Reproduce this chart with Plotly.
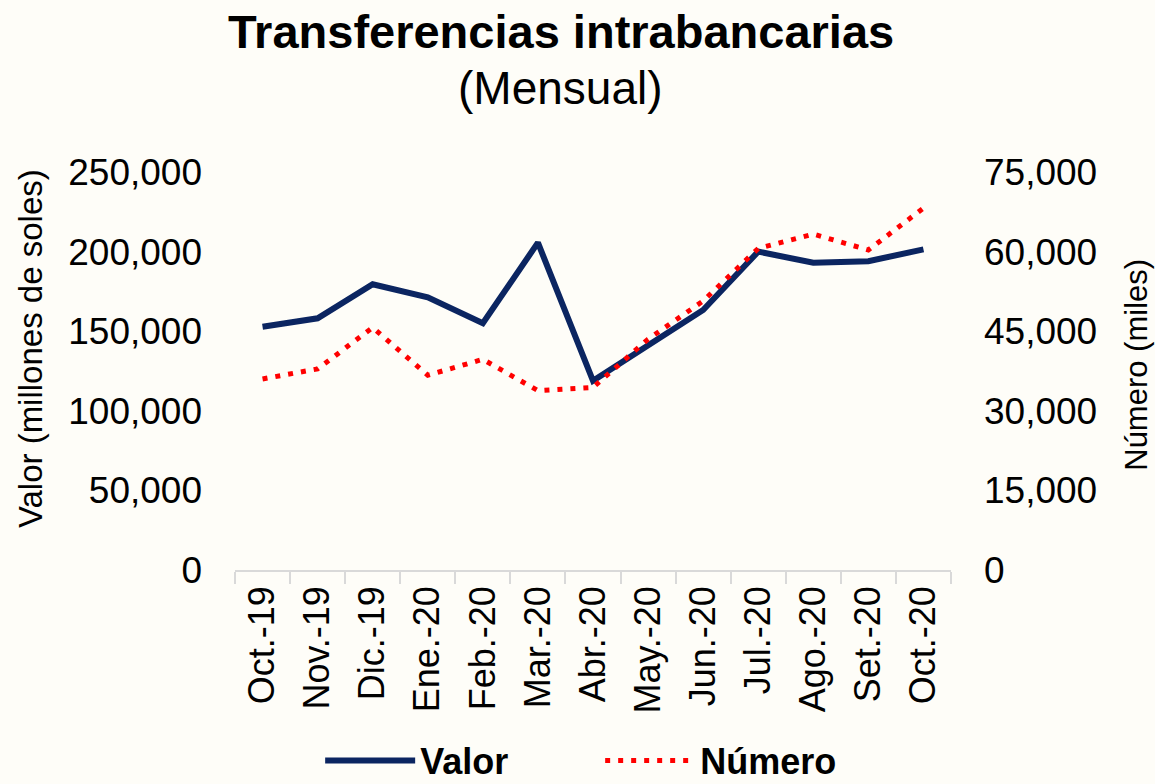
import plotly.graph_objects as go

months = ["Oct.-19", "Nov.-19", "Dic.-19", "Ene.-20", "Feb.-20", "Mar.-20", "Abr.-20",
          "May.-20", "Jun.-20", "Jul.-20", "Ago.-20", "Set.-20", "Oct.-20"]
valor = [152800, 158100, 179500, 171300, 155000, 205600, 118800,
         141500, 163300, 200000, 193000, 194000, 201400]
numero = [36000, 37900, 45700, 36700, 39700, 33800, 34400,
          43500, 50700, 60600, 63300, 60300, 68200]

left_ticks = [0, 50000, 100000, 150000, 200000, 250000]
right_ticks = [0, 15000, 30000, 45000, 60000, 75000]

FONT = "Liberation Sans, Arial, sans-serif"
BG = "#FEFDF8"

fig = go.Figure()
fig.add_trace(go.Scatter(x=months, y=valor, name="<b>Valor</b>", mode="lines",
                         line=dict(color="#0B2561", width=6), yaxis="y"))
fig.add_trace(go.Scatter(x=months, y=numero, name="<b>Número</b>", mode="lines",
                         line=dict(color="#FF0000", width=5, dash="5px,8px"), yaxis="y2"))

fig.update_layout(
    width=1155, height=784,
    paper_bgcolor=BG, plot_bgcolor=BG,
    margin=dict(l=235, r=204, t=172, b=214, autoexpand=False),
    font=dict(family=FONT, color="#000000"),
    showlegend=True,
    legend=dict(orientation="h", x=0.51, xanchor="center",
                yref="container", y=0.03, yanchor="middle",
                font=dict(size=36, family=FONT, color="#000000"),
                bgcolor="rgba(0,0,0,0)", itemwidth=90, entrywidth=175, traceorder="normal"),
    xaxis=dict(type="category", range=[-0.5, 12.5], showgrid=False, zeroline=False,
               automargin=False,
               showline=True, linecolor="#D9D9D9", linewidth=1.5,
               ticks="outside", ticklen=12, tickcolor="#D9D9D9", tickwidth=1.5,
               tickson="boundaries", tickangle=-90,
               tickfont=dict(size=36, family=FONT, color="#000000")),
    yaxis=dict(range=[0, 250000], tickvals=left_ticks, tickformat=",d",
               automargin=False,
               showgrid=False, zeroline=False, showline=False, ticks="",
               ticklabelstandoff=32,
               tickfont=dict(size=37, family=FONT, color="#000000")),
    yaxis2=dict(range=[0, 75000], tickvals=right_ticks, tickformat=",d",
                automargin=False,
                overlaying="y", side="right",
                showgrid=False, zeroline=False, showline=False, ticks="",
                ticklabelstandoff=32,
                tickfont=dict(size=37, family=FONT, color="#000000")),
    annotations=[
        dict(text="<b>Transferencias intrabancarias</b>", xref="paper", yref="paper",
             x=0.455, y=1.354, xanchor="center", yanchor="middle", showarrow=False,
             font=dict(size=47, family=FONT, color="#000000")),
        dict(text="(Mensual)", xref="paper", yref="paper",
             x=0.455, y=1.211, xanchor="center", yanchor="middle", showarrow=False,
             font=dict(size=46, family=FONT, color="#000000")),
        dict(text="Valor (millones de soles)", xref="paper", yref="paper",
             x=-0.2863, y=0.555, xanchor="center", yanchor="middle", showarrow=False,
             textangle=-90, font=dict(size=33, family=FONT, color="#000000")),
        dict(text="Número (miles)", xref="paper", yref="paper",
             x=1.258, y=0.515, xanchor="center", yanchor="middle", showarrow=False,
             textangle=-90, font=dict(size=31, family=FONT, color="#000000")),
    ],
)

fig.write_html(
    "out.html",
    config={"displayModeBar": False},
    post_script=("document.body.style.margin='0';"
                 "document.body.style.background='" + BG + "';"
                 "document.body.style.overflow='hidden';"),
)
